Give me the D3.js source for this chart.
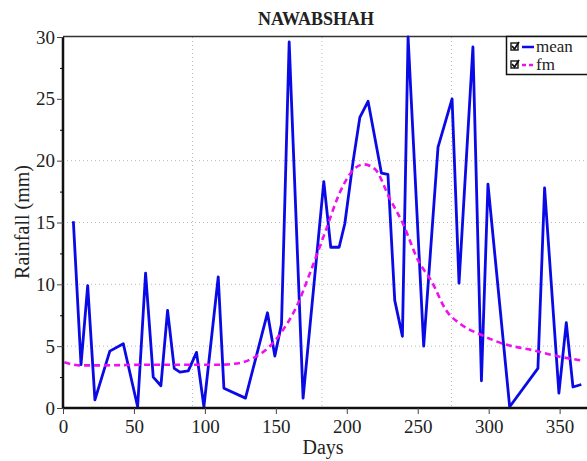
<!DOCTYPE html>
<html>
<head>
<meta charset="utf-8">
<script src="https://cdn.jsdelivr.net/npm/d3@7"></script>
<style>
  body { margin: 0; background: #fff; }
  text { font-family: "Liberation Serif", "Times New Roman", serif; fill: #222; }
</style>
</head>
<body>
<svg width="587" height="461"></svg>
<script>
// mean rainfall (mm) by day
var meanDays = [7.3, 12.7, 17.4, 22.5, 33, 42.5, 52.6, 58.2, 63.6, 69, 73.7, 78.4, 82.4, 88.3, 94.1, 99.3,
  109.4, 113.4, 128.6, 144.1, 149.3, 154, 159.4, 169.2, 183.8, 188.7, 194.6, 198.6, 204.4, 209.2, 215,
  224.4, 229, 233.8, 239.2, 243.2, 254.2, 264.3, 274.2, 279.1, 288.9, 294.9, 299.5, 314.8, 334.7,
  339.4, 349.5, 354.7, 359.4, 365.3];
var meanVals = [15.1, 3.5, 9.9, 0.65, 4.6, 5.2, 0.1, 10.9, 2.5, 1.8, 7.9, 3.2, 2.9, 3.0, 4.5, 0.1,
  10.6, 1.6, 0.8, 7.7, 4.2, 6.8, 29.6, 0.8, 18.3, 13.0, 13.0, 14.9, 19.9, 23.5, 24.8,
  19.0, 18.9, 8.7, 5.8, 30, 5.0, 21.1, 25.0, 10.1, 29.2, 2.2, 18.1, 0.1, 3.2,
  17.8, 1.2, 6.9, 1.7, 1.9];

// fitted curve
var fmDays = [1, 12, 30, 60, 90, 110, 125, 135, 145, 155, 165, 175, 185, 195, 205, 212, 220, 230,
  240, 250, 260, 270, 280, 295, 310, 330, 350, 365];
var fmVals = [3.7, 3.45, 3.45, 3.5, 3.5, 3.5, 3.65, 4.1, 4.9, 6.3, 8.3, 11.2, 14.3, 17.4, 19.3, 19.7, 19.3, 17.0,
  14.8, 12.0, 10.2, 7.9, 6.8, 5.9, 5.2, 4.7, 4.15, 3.85];

var xTicks = [0, 50, 100, 150, 200, 250, 300, 350];
var yTicks = [0, 5, 10, 15, 20, 25, 30];
var xGrid = [91.25, 182.5, 273.75];
var yGrid = [5, 10, 15, 20];

var svg = d3.select("svg");

var x = d3.scaleLinear().domain([0, 370]).range([63, 588]);
var y = d3.scaleLinear().domain([0, 30]).range([408, 37]);

// grid
svg.append("g").selectAll("line").data(yGrid).join("line")
    .attr("x1", 63).attr("x2", 587)
    .attr("y1", function(d) { return y(d); }).attr("y2", function(d) { return y(d); })
    .attr("stroke", "#bbb").attr("stroke-width", 1).attr("stroke-dasharray", "1,3");
svg.append("g").selectAll("line").data(xGrid).join("line")
    .attr("x1", function(d) { return x(d); }).attr("x2", function(d) { return x(d); })
    .attr("y1", 37).attr("y2", 408)
    .attr("stroke", "#bbb").attr("stroke-width", 1).attr("stroke-dasharray", "1,3");

// top frame
svg.append("line").attr("x1", 63).attr("x2", 587).attr("y1", 36.5).attr("y2", 36.5)
    .attr("stroke", "#333").attr("stroke-width", 1.5);

// lines
var clip = svg.append("clipPath").attr("id", "c").append("rect")
    .attr("x", 63).attr("y", 35).attr("width", 530).attr("height", 375);

var fmLine = d3.line().x(function(d) { return x(d[0]); }).y(function(d) { return y(d[1]); })
    .curve(d3.curveMonotoneX);
var meanLine = d3.line().x(function(d) { return x(d[0]); }).y(function(d) { return y(d[1]); });

svg.append("path").datum(d3.zip(meanDays, meanVals))
    .attr("clip-path", "url(#c)")
    .attr("d", meanLine).attr("fill", "none")
    .attr("stroke", "#0a0ae6").attr("stroke-width", 2.8).attr("stroke-linejoin", "round");

svg.append("path").datum(d3.zip(fmDays, fmVals))
    .attr("d", fmLine).attr("fill", "none")
    .attr("stroke", "#ee10ee").attr("stroke-width", 2.6).attr("stroke-dasharray", "6,4");

// axes
var xAxis = svg.append("g").attr("transform", "translate(0,408)")
    .call(d3.axisBottom(x).tickValues(xTicks).tickSize(6).tickPadding(6).tickFormat(d3.format("d")));
var yAxis = svg.append("g").attr("transform", "translate(63,0)")
    .call(d3.axisLeft(y).tickValues(yTicks).tickSize(6).tickPadding(2).tickFormat(d3.format("d")));
svg.append("g").attr("transform", "translate(63,0)")
    .call(d3.axisLeft(y).tickValues(d3.range(2.5, 30, 5)).tickSize(3).tickFormat(""))
    .select(".domain").remove();

[xAxis, yAxis].forEach(function(a) {
  a.attr("font-family", null);
  a.select(".domain").attr("stroke", "#111").attr("stroke-width", 2.5);
  a.selectAll(".tick line").attr("stroke", "#444");
  a.selectAll(".tick text").style("font-family", "Liberation Serif").style("font-size", "19px").attr("fill", "#222");
});
xAxis.select(".domain").attr("d", "M63,0H587");
yAxis.select(".domain").attr("d", "M0,37V408");

// titles
svg.append("text").attr("x", 316).attr("y", 25).attr("text-anchor", "middle")
    .style("font-size", "18px").style("font-weight", "bold").text("NAWABSHAH");
svg.append("text").attr("x", 323).attr("y", 454).attr("text-anchor", "middle")
    .style("font-size", "20px").text("Days");
svg.append("text").attr("transform", "translate(29,222) rotate(-90)").attr("text-anchor", "middle")
    .style("font-size", "20px").text("Rainfall (mm)");

// legend
var lg = svg.append("g");
lg.append("rect").attr("x", 506.5).attr("y", 36.5).attr("width", 90).attr("height", 38)
    .attr("fill", "#fff").attr("stroke", "#111").attr("stroke-width", 1.5);
var items = [["mean", "#0a0ae6", null], ["fm", "#ee10ee", "4,3"]];
items.forEach(function(it, i) {
  var cy = 47 + i * 18;
  lg.append("rect").attr("x", 511).attr("y", cy - 4).attr("width", 7).attr("height", 7)
      .attr("fill", "#fff").attr("stroke", "#222").attr("stroke-width", 1.5);
  lg.append("path").attr("d", "M512," + (cy - 1) + "L514.5," + (cy + 2) + "L519," + (cy - 5))
      .attr("fill", "none").attr("stroke", "#111").attr("stroke-width", 1.8);
  lg.append("line").attr("x1", 522).attr("x2", 534).attr("y1", cy).attr("y2", cy)
      .attr("stroke", it[1]).attr("stroke-width", 2.5).attr("stroke-dasharray", it[2]);
  lg.append("text").attr("x", 536).attr("y", cy + 5).style("font-size", "17px").text(it[0]);
});
</script>
</body>
</html>
